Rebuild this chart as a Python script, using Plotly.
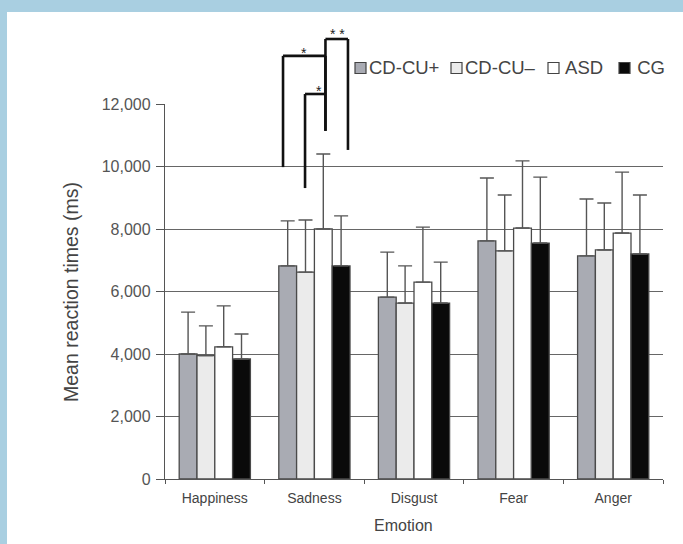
import plotly.graph_objects as go

emotions = ["Happiness", "Sadness", "Disgust", "Fear", "Anger"]
groups = ["CD-CU+", "CD-CU\u2013", "ASD", "CG"]
means = {
    "CD-CU+": [4000, 6820, 5820, 7620, 7140],
    "CD-CU\u2013": [3950, 6620, 5630, 7300, 7330],
    "ASD": [4230, 8000, 6300, 8030, 7870],
    "CG": [3840, 6820, 5630, 7550, 7200],
}
sds = {
    "CD-CU+": [1340, 1440, 1440, 2010, 1820],
    "CD-CU\u2013": [950, 1670, 1190, 1790, 1500],
    "ASD": [1310, 2400, 1760, 2150, 1950],
    "CG": [800, 1600, 1310, 2110, 1890],
}
fills = {"CD-CU+": "#a9abb3", "CD-CU\u2013": "#ebebeb", "ASD": "#ffffff", "CG": "#0a0a0a"}
y_ticks = [0, 2000, 4000, 6000, 8000, 10000, 12000]
y_max = 12000

# significance brackets (category-axis x, value y)
brackets = [
    {"x": [0.685, 0.685, 1.111, 1.111], "y": [9980, 13540, 13540, 11140]},
    {"x": [0.906, 0.906, 1.111], "y": [9310, 12320, 12320]},
    {"x": [1.111, 1.111, 1.337, 1.337], "y": [11140, 14080, 14080, 10530]},
]
stars = [("*", 0.845, 13950), ("*", 0.996, 12720), ("* *", 1.227, 14550)]

W, H = 683, 544
ML, MR, MT, MB = 165, 20, 104, 65
pw = W - ML - MR
ph = H - MT - MB
BLUE = "#a9cfe1"
TXT = "#444444"

def px(xv):
    return (xv + 0.5) / len(emotions)

def py(yv):
    return yv / y_max

def fx(pix):  # figure pixel -> paper x
    return (pix - ML) / pw

def fy(pix):  # figure pixel (from top) -> paper y
    return (H - MB - pix) / ph

fig = go.Figure()
for g in groups:
    fig.add_trace(go.Bar(
        name=g, x=emotions, y=means[g], showlegend=False,
        marker=dict(color=fills[g], line=dict(color="#4a4a4a", width=1.3)),
        error_y=dict(type="data", array=sds[g], arrayminus=[0] * len(emotions),
                     symmetric=False, color="#555555", thickness=1.4, width=7),
    ))

shapes = []
# blue frame strips (top and left)
shapes.append(dict(type="rect", xref="paper", yref="paper",
                   x0=fx(0), x1=fx(W), y0=fy(12), y1=fy(0),
                   fillcolor=BLUE, line=dict(width=0), layer="below"))
shapes.append(dict(type="rect", xref="paper", yref="paper",
                   x0=fx(0), x1=fx(7), y0=fy(H), y1=fy(0),
                   fillcolor=BLUE, line=dict(width=0), layer="below"))
for b in brackets:
    pts = list(zip(b["x"], b["y"]))
    for (x0, y0), (x1, y1) in zip(pts[:-1], pts[1:]):
        shapes.append(dict(type="line", xref="paper", yref="paper",
                           x0=px(x0), x1=px(x1), y0=py(y0), y1=py(y1),
                           line=dict(color="#111111", width=2.6)))

annotations = []
for t, xv, yv in stars:
    annotations.append(dict(text=t, x=px(xv), y=py(yv), xref="paper", yref="paper",
                            showarrow=False, font=dict(size=14, color="#222222")))

# custom legend (swatch + label)
legend_labels = ["CD-CU+", "CD-CU\u2013", " ASD", " CG"]
legend_swatch_x = [355, 451, 548, 619]
legend_text_x = [367, 463, 559, 630]
legend_y = 68
for g, lab, sx, tx in zip(groups, legend_labels, legend_swatch_x, legend_text_x):
    shapes.append(dict(type="rect", xref="paper", yref="paper",
                       x0=fx(sx), x1=fx(sx + 11), y0=fy(legend_y + 5.5), y1=fy(legend_y - 5.5),
                       fillcolor=fills[g], line=dict(color="#444444", width=1.2)))
    annotations.append(dict(text=lab, x=fx(tx), y=fy(legend_y), xref="paper", yref="paper",
                            xanchor="left", yanchor="middle", showarrow=False,
                            font=dict(size=18.5, color=TXT)))

# axis titles
annotations.append(dict(text="Mean reaction times (ms)", x=fx(71), y=fy(292),
                        xref="paper", yref="paper", textangle=-90, showarrow=False,
                        xanchor="center", yanchor="middle", font=dict(size=19.5, color=TXT)))
annotations.append(dict(text="Emotion", x=fx(403), y=fy(525),
                        xref="paper", yref="paper", showarrow=False,
                        xanchor="center", yanchor="middle", font=dict(size=16, color=TXT)))

fig.update_layout(
    template="none",
    width=W, height=H,
    margin=dict(l=ML, r=MR, t=MT, b=MB, autoexpand=False),
    paper_bgcolor="white", plot_bgcolor="white",
    barmode="group", bargap=0.285, bargroupgap=0,
    font=dict(family="Liberation Sans, Arial, sans-serif", color=TXT, size=14),
    shapes=shapes, annotations=annotations,
    showlegend=False,
    xaxis=dict(automargin=False, showline=True, linecolor="#555555", linewidth=1.3,
               ticks="outside", tickson="boundaries", ticklen=4, tickcolor="#555555",
               showgrid=False, zeroline=False, ticklabelstandoff=6,
               tickfont=dict(size=14, color=TXT)),
    yaxis=dict(automargin=False, range=[0, y_max], tickvals=y_ticks, tickformat=",d",
               showline=True, linecolor="#555555", linewidth=1.3,
               ticks="outside", ticklen=8, tickcolor="#555555", ticklabelstandoff=2,
               showgrid=True, gridcolor="#666666", gridwidth=1.3, zeroline=False,
               tickfont=dict(size=16, color="#555555")),
)

fig.write_html("out.html", post_script="document.body.style.margin='0';",
               config={"displayModeBar": False})
